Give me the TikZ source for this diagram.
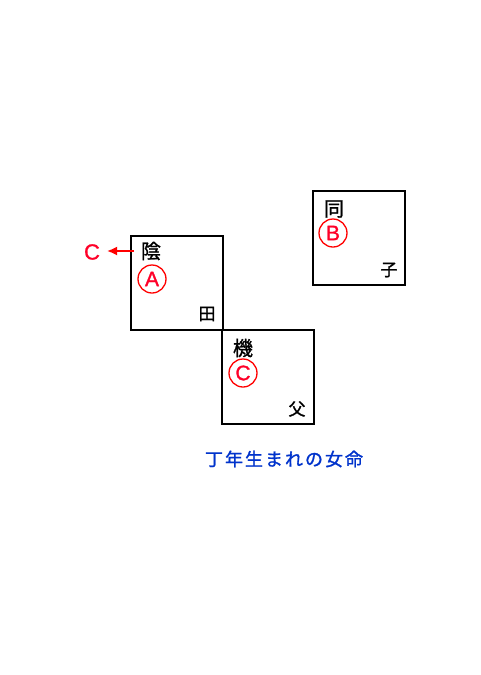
\documentclass[tikz,border=0pt]{standalone}
\usepackage{fontspec}
\usetikzlibrary{arrows.meta,calc}
\setmainfont{Liberation Sans}
\newfontfamily\latb{Liberation Sans}[FakeBold=1.2]
\newfontfamily\cjk{Noto Sans CJK JP}
\newfontfamily\cjkb{Noto Sans CJK JP}[FakeBold=1.2]
\definecolor{capblue}{RGB}{0,51,204}
\definecolor{lblred}{RGB}{255,0,40}
\begin{document}
\begin{tikzpicture}[x=1pt,y=-1pt,
  box/.style={draw=black,line width=1.6pt},
  kanji/.style={font=\cjkb\fontsize{20}{20}\selectfont,inner sep=0pt},
  small/.style={font=\cjkb\fontsize{17}{17}\selectfont,inner sep=0pt},
  circ/.style={draw=red,line width=1.3pt,circle,minimum size=28pt,inner sep=0pt,text=lblred,font=\latb\fontsize{21}{21}\selectfont},
  arr/.style={draw=red,line width=1.8pt,-{Latex[length=10pt,width=9pt]}},
]
\useasboundingbox (0,0) rectangle (481,675);
\fill[white] (0,0) rectangle (481,675);
% boxes
\draw[box] (131,236) rectangle (223,330);
\draw[box] (222,330) rectangle (314,424);
\draw[box] (313,191) rectangle (405,285);
% box 1
\node[kanji] (in) at (151,251) {陰};
\node[circ] (ca) at (152,279) {A};
\node[small] (ta) at (207,314) {田};
\coordinate (arrs) at (134,251);
\coordinate (arre) at (107,251);
\node[text=lblred,font=\latb\fontsize{22}{22}\selectfont,inner sep=0pt] (cl) at (92,252) {C};
\draw[arr] (arrs) -- (arre);
% box 2
\node[kanji] (ki) at (243,348) {機};
\node[circ] (cc) at (243,373) {C};
\node[small] (fu) at (297,409) {父};
% box 3
\node[kanji] (do) at (334,209) {同};
\node[circ] (cb) at (333,233) {B};
\node[small] (ko) at (389,270) {子};
% caption
\node[font=\cjkb\fontsize{18}{18}\selectfont,text=capblue,inner sep=0pt] (cap) at (284,459) {丁\kern2pt年\kern2pt生\kern2pt ま\kern2pt れ\kern2pt の\kern2pt 女\kern2pt 命};
\end{tikzpicture}
\end{document}
